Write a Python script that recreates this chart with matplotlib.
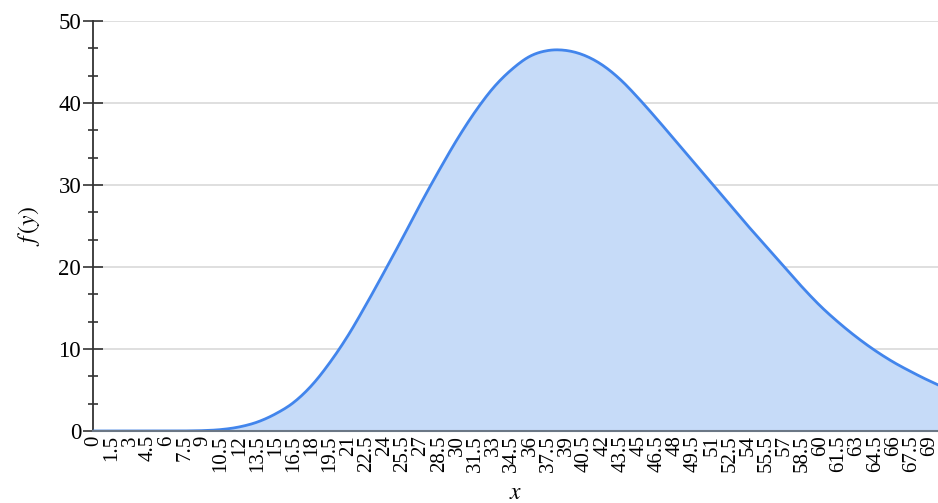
import matplotlib
matplotlib.use('Agg')
import matplotlib.pyplot as plt
from matplotlib.ticker import MultipleLocator
import numpy as np

# x categories (step 1.5) and density values
x_vals = [0, 1.5, 3, 4.5, 6, 7.5, 9, 10.5, 12, 13.5, 15, 16.5, 18, 19.5, 21, 22.5,
          24, 25.5, 27, 28.5, 30, 31.5, 33, 34.5, 36, 37.5, 39, 40.5, 42, 43.5,
          45, 46.5, 48, 49.5, 51, 52.5, 54, 55.5, 57, 58.5, 60, 61.5, 63, 64.5,
          66, 67.5, 69, 70.5]
f_vals = [0, 0, 0, 0, 0, 0.01, 0.05, 0.18, 0.5, 1.1, 2.1, 3.5, 5.6, 8.4, 11.7, 15.5,
          19.5, 23.6, 27.8, 31.8, 35.6, 39.0, 41.9, 44.1, 45.7, 46.4, 46.4, 45.8, 44.6, 42.8,
          40.5, 38.0, 35.4, 32.8, 30.2, 27.6, 25.0, 22.5, 20.0, 17.5, 15.2, 13.2, 11.4, 9.8,
          8.4, 7.2, 6.1, 5.2]
tick_labels = ['0', '1.5', '3', '4.5', '6', '7.5', '9', '10.5', '12', '13.5', '15', '16.5',
               '18', '19.5', '21', '22.5', '24', '25.5', '27', '28.5', '30', '31.5', '33',
               '34.5', '36', '37.5', '39', '40.5', '42', '43.5', '45', '46.5', '48', '49.5',
               '51', '52.5', '54', '55.5', '57', '58.5', '60', '61.5', '63', '64.5', '66',
               '67.5', '69']


def smooth_line(xs, ys, n=12):
    # catmull-rom pass through the points, only for drawing a rounded line
    xs = np.asarray(xs, float)
    ys = np.asarray(ys, float)
    px = np.concatenate([[2 * xs[0] - xs[1]], xs, [2 * xs[-1] - xs[-2]]])
    py = np.concatenate([[ys[0]], ys, [ys[-1]]])
    out_x, out_y = [], []
    t = np.linspace(0, 1, n, endpoint=False)
    for i in range(1, len(px) - 2):
        for p, out in ((px, out_x), (py, out_y)):
            p0, p1, p2, p3 = p[i - 1], p[i], p[i + 1], p[i + 2]
            out.extend(0.5 * (2 * p1 + (-p0 + p2) * t
                              + (2 * p0 - 5 * p1 + 4 * p2 - p3) * t ** 2
                              + (-p0 + 3 * p1 - 3 * p2 + p3) * t ** 3))
    out_x.append(xs[-1])
    out_y.append(ys[-1])
    return np.array(out_x), np.clip(np.array(out_y), 0, None)


plt.rcParams['font.family'] = ['Liberation Serif', 'DejaVu Serif']
plt.rcParams['mathtext.fontset'] = 'stix'

fig = plt.figure(figsize=(9.38, 5.03), dpi=100)
ax = fig.add_axes([0.0991, 0.1431, 0.9009, 0.8152])

sx, sy = smooth_line(x_vals, f_vals)
ax.fill_between(sx, sy, 0, color='#c6dbf8', lw=0, zorder=1)
ax.plot(sx, sy, color='#4285ec', lw=2, zorder=3)

ax.set_xlim(-0.08, 69.68)
ax.set_ylim(0, 50)

ax.yaxis.set_major_locator(MultipleLocator(10))
ax.yaxis.set_minor_locator(MultipleLocator(10 / 3))
ax.grid(axis='y', which='major', color='#d9d9d9', lw=1.2, zorder=0)
ax.set_axisbelow(True)

ax.set_xticks(x_vals[:len(tick_labels)])
ax.set_xticklabels(tick_labels, rotation=90, va='top', ha='center')
ax.tick_params(axis='x', length=0, pad=3, labelsize=15)
ax.tick_params(axis='y', which='major', direction='inout', length=15, width=1.2,
               color='#333333', labelsize=16.5, pad=1)
ax.tick_params(axis='y', which='minor', direction='inout', length=7, width=1.2,
               color='#333333')

for s in ['top', 'right']:
    ax.spines[s].set_visible(False)
ax.spines['left'].set_color('#333333')
ax.spines['left'].set_linewidth(1.3)
ax.spines['bottom'].set_color('#6b7785')
ax.spines['bottom'].set_linewidth(1.5)
ax.spines['bottom'].set_zorder(4)

ax.set_ylabel('$f\\,(y)$', fontsize=17, labelpad=12)
ax.set_xlabel('$x$', fontsize=17, labelpad=8)

fig.savefig('out.png', dpi=100)
